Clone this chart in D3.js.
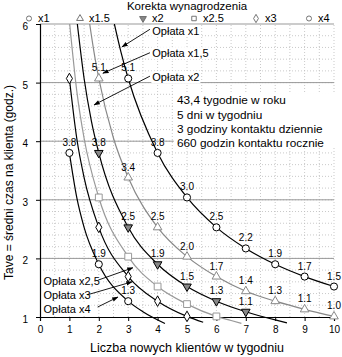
<!DOCTYPE html>
<html lang="pl">
<head>
<meta charset="UTF-8">
<title>Korekta wynagrodzenia</title>
<style>
  body { margin: 0; background: #fff; }
  svg { font-family: "Liberation Sans", Arial, sans-serif; display: block; }
  .tick text { font-size: 10px; fill: #000; }
  .pt-label { font-size: 10px; text-anchor: middle; fill: #000; }
  .note { font-size: 11px; fill: #000; }
  .info { font-size: 11.8px; fill: #000; }
</style>
</head>
<body>
<div id="chart"></div>
<script src="https://d3js.org/d3.v7.min.js"></script>
<script>
// Liczba nowych klientów w tygodniu
const clients = [1, 2, 3, 4, 5, 6, 7, 8, 9, 10];
const feeNames = ["x1", "x1.5", "x2", "x2.5", "x3", "x4"];

// Tave (godz.) for each fee factor, null where off the chart
const tave1  = [null, null, 5.07, 3.80, 3.04, 2.53, 2.17, 1.90, 1.69, 1.52];
const tave15 = [null, 5.07, 3.38, 2.53, 2.03, 1.69, 1.44, 1.27, 1.13, 1.01];
const tave2  = [null, 3.80, 2.53, 1.90, 1.52, 1.27, 1.09, null, null, null];
const tave25 = [null, 3.04, 2.03, 1.52, 1.22, 1.01, null, null, null, null];
const tave3  = [5.07, 2.53, 1.69, 1.27, 1.01, null, null, null, null, null];
const tave4  = [3.80, 1.90, 1.27, null, null, null, null, null, null, null];

// extra points along each curve (where it leaves the top/bottom, steep parts)
const bend1  = [[2.53, 6.0], [2.75, 5.53]];
const bend15 = [[1.69, 6.0], [1.85, 5.48], [2.5, 4.05]];
const bend2  = [[1.27, 6.0], [1.5, 5.07], [1.75, 4.34], [8.0, 0.95], [8.4, 0.9]];
const bend25 = [[1.01, 6.0], [1.25, 4.86], [1.5, 4.05], [6.5, 0.94], [6.85, 0.89]];
const bend3  = [[1.25, 4.05], [1.5, 3.38], [5.55, 0.91]];
const bend4  = [[1.25, 3.04], [1.5, 2.53], [3.5, 1.09], [4.25, 0.89]];

const labelled = [true, true, true, false, false, true];

const info = ["43,4 tygodnie w roku", "5 dni w tygodniu",
              "3 godziny kontaktu dziennie", "660 godzin kontaktu rocznie"];

const series = [tave1, tave15, tave2, tave25, tave3, tave4].map((vals, i) => ({
  name: feeNames[i],
  points: clients.map((c, j) => [c, vals[j]]).filter(p => p[1] != null),
  bends: [bend1, bend15, bend2, bend25, bend3, bend4][i],
  labelled: labelled[i]
}));

const styles = [
  { color: "#000", symbol: d3.symbolCircle,   size: 40, fill: "#fff" },
  { color: "#888", symbol: d3.symbolTriangle, size: 32, fill: "#fff" },
  { color: "#000", symbol: d3.symbolTriangle, size: 32, fill: "#888", rotate: 180 },
  { color: "#999", symbol: d3.symbolSquare,   size: 46, fill: "#fff" },
  { color: "#000", symbol: d3.symbolDiamond,  size: 32, fill: "#fff" },
  { color: "#000", symbol: d3.symbolCircle,   size: 40, fill: "#fff" }
];

const W = 342, H = 357;
const margin = { top: 24, right: 8, bottom: 40, left: 40 };

const svg = d3.select("#chart").append("svg")
  .attr("width", W).attr("height", H);

const x = d3.scaleLinear().domain([0, 10]).range([margin.left, W - margin.right]);
const y = d3.scaleLinear().domain([1, 6]).range([H - margin.bottom, margin.top]);

svg.append("defs").append("clipPath").attr("id", "top-clip")
  .append("rect").attr("x", 0).attr("y", margin.top).attr("width", W).attr("height", H);

svg.append("defs").append("marker")
  .attr("id", "arrow").attr("viewBox", "0 0 10 10")
  .attr("refX", 9).attr("refY", 5)
  .attr("markerWidth", 7).attr("markerHeight", 7)
  .attr("orient", "auto")
  .append("path").attr("d", "M0,1.5L10,5L0,8.5Z").attr("fill", "#000");

// grid: dotted minor lines, solid gray on whole hours
const grid = svg.append("g");
grid.selectAll(".vminor").data(d3.range(0.5, 10.01, 0.5)).join("line")
  .attr("x1", d => x(d)).attr("x2", d => x(d))
  .attr("y1", y(1)).attr("y2", y(6))
  .attr("stroke", "#bbb").attr("stroke-width", 0.8).attr("stroke-dasharray", "1,2");
grid.selectAll(".hminor").data(d3.range(1.2, 6, 0.2)).join("line")
  .attr("x1", x(0)).attr("x2", x(10))
  .attr("y1", d => y(d)).attr("y2", d => y(d))
  .attr("stroke", "#bbb").attr("stroke-width", 0.8).attr("stroke-dasharray", "1,2");
grid.selectAll(".hmajor").data(d3.range(2, 7)).join("line")
  .attr("x1", x(0)).attr("x2", x(10))
  .attr("y1", d => y(d)).attr("y2", d => y(d))
  .attr("stroke", "#999").attr("stroke-width", 1);

// axes
svg.append("g")
  .attr("transform", `translate(0,${y(1)})`)
  .call(d3.axisBottom(x).ticks(10).tickSize(4).tickPadding(5))
  .call(g => g.select(".domain").attr("stroke", "#000").attr("stroke-width", 1.2));
svg.append("g")
  .attr("transform", `translate(${x(0)},0)`)
  .call(d3.axisLeft(y).ticks(5).tickSize(4).tickPadding(8))
  .call(g => g.select(".domain").attr("stroke", "#000").attr("stroke-width", 1.2))
  .call(g => g.selectAll(".tick text").attr("dy", "0.55em"));

// curves
const line = d3.line().x(d => x(d[0])).y(d => y(d[1])).curve(d3.curveMonotoneX);
const curves = svg.append("g").attr("clip-path", "url(#top-clip)");
series.forEach((s, i) => {
  const pts = s.points.concat(s.bends).sort((a, b) => a[0] - b[0]);
  curves.append("path").datum(pts)
    .attr("d", line).attr("fill", "none")
    .attr("stroke", styles[i].color).attr("stroke-width", 1.2);
});

// markers
series.forEach((s, i) => {
  const st = styles[i];
  svg.append("g").selectAll("path").data(s.points).join("path")
    .attr("d", d3.symbol().type(st.symbol).size(st.size))
    .attr("transform", d => `translate(${x(d[0])},${y(d[1])})` + (st.rotate ? ` rotate(${st.rotate})` : ""))
    .attr("fill", st.fill).attr("stroke", st.color).attr("stroke-width", 1);
});

// value labels
const fmt = d3.format(".1f");
series.filter(s => s.labelled).forEach(s => {
  svg.append("g").selectAll("text").data(s.points).join("text")
    .attr("class", "pt-label")
    .attr("x", d => x(d[0])).attr("y", d => y(d[1]) - 7)
    .text(d => fmt(d[1]));
});

// "Opłata" notes with arrows
const notes = [
  { text: "Opłata x1",   at: [3.82, 5.88], from: [3.74, 5.91], to: [2.79, 5.61] },
  { text: "Opłata x1,5", at: [3.82, 5.50], from: [3.74, 5.51], to: [2.14, 5.16] },
  { text: "Opłata x2",   at: [3.82, 5.09], from: [3.74, 5.11], to: [1.84, 4.62] },
  { text: "Opłata x2,5", at: [0.12, 1.61], from: [1.98, 1.63], to: [3.16, 1.84] },
  { text: "Opłata x3",   at: [0.12, 1.37], from: [1.62, 1.38], to: [3.13, 1.60] },
  { text: "Opłata x4",   at: [0.12, 1.13], from: [1.96, 1.17], to: [2.65, 1.34] }
];
const noteG = svg.append("g");
notes.forEach(n => {
  const t = noteG.append("text").attr("class", "note")
    .attr("x", x(n.at[0])).attr("y", y(n.at[1])).attr("dy", "0.35em").text(n.text);
  const b = t.node().getBBox();
  noteG.insert("rect", "text")
    .attr("x", b.x - 1).attr("y", b.y).attr("width", b.width + 2).attr("height", b.height)
    .attr("fill", "#fff");
  noteG.append("line")
    .attr("x1", x(n.from[0])).attr("y1", y(n.from[1]))
    .attr("x2", x(n.to[0])).attr("y2", y(n.to[1]))
    .attr("stroke", "#000").attr("stroke-width", 0.9)
    .attr("marker-end", "url(#arrow)");
});

// info box
const infoG = svg.append("g");
infoG.append("rect")
  .attr("x", x(4.55)).attr("y", y(4.82)).attr("width", x(10) - x(4.55) + 4).attr("height", y(3.9) - y(4.82))
  .attr("fill", "#fff");
infoG.selectAll("text").data(info).join("text")
  .attr("class", "info")
  .attr("x", x(4.66)).attr("y", (d, i) => y(4.70) + i * 14.2).attr("dy", "0.35em")
  .text(d => d);

// legend
svg.append("text")
  .attr("x", 187).attr("y", 10)
  .attr("text-anchor", "middle").attr("font-size", 11.5).text("Korekta wynagrodzenia");
const legendX = [29, 80, 143, 194, 256, 309];
const legend = svg.append("g").selectAll("g").data(feeNames).join("g")
  .attr("transform", (d, i) => `translate(${legendX[i]},18.5)`);
legend.append("path")
  .attr("d", (d, i) => d3.symbol().type(styles[i].symbol).size(20)())
  .attr("transform", (d, i) => styles[i].rotate ? `rotate(${styles[i].rotate})` : null)
  .attr("fill", (d, i) => styles[i].fill)
  .attr("stroke", "#666").attr("stroke-width", 0.9);
legend.append("text")
  .attr("x", 9).attr("dy", "0.35em").attr("font-size", 11)
  .text(d => d);

// axis titles
svg.append("text")
  .attr("x", 187).attr("y", 352)
  .attr("text-anchor", "middle").attr("font-size", 12.5)
  .text("Liczba nowych klientów w tygodniu");
svg.append("text")
  .attr("transform", `translate(13,${(y(1) + y(6)) / 2 + 12}) rotate(-90)`)
  .attr("text-anchor", "middle").attr("font-size", 12)
  .text("Tave = średni czas na klienta (godz.)");
</script>
</body>
</html>
